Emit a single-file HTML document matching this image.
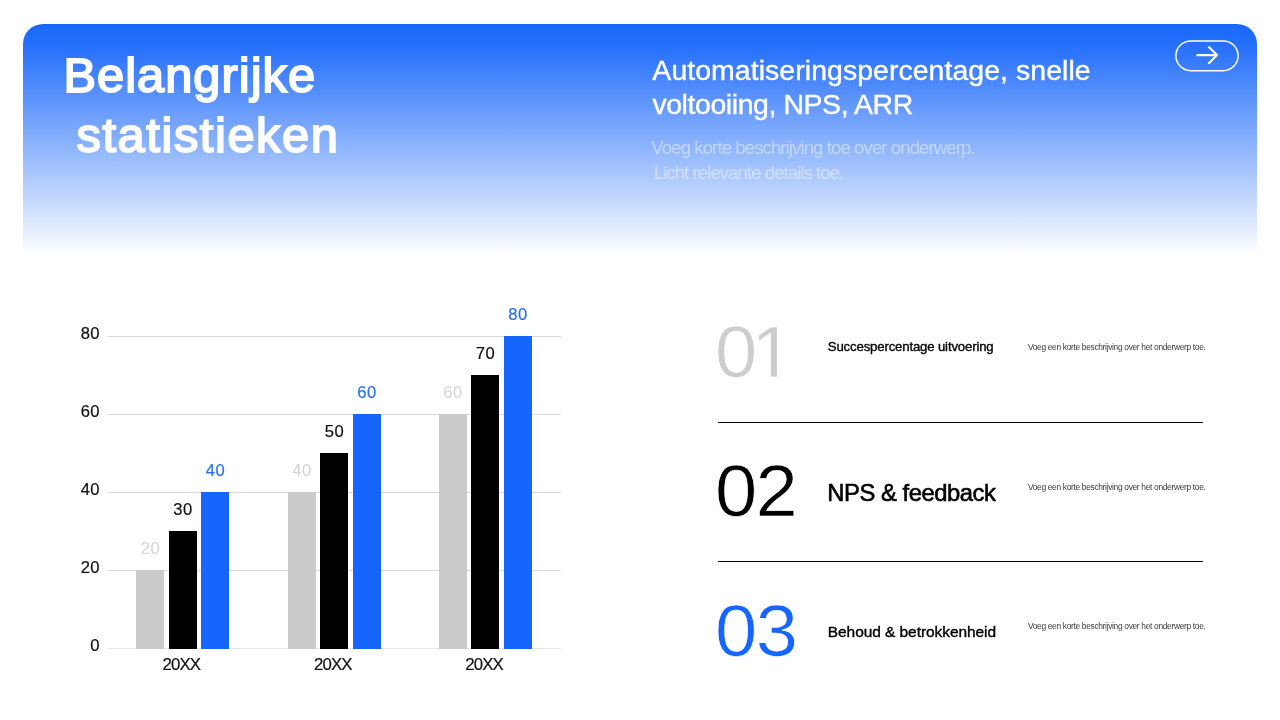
<!DOCTYPE html>
<html lang="nl">
<head>
<meta charset="utf-8">
<title>Belangrijke statistieken</title>
<style>
*{margin:0;padding:0;box-sizing:border-box}
h1,h2,h3,p,span{font:inherit}
html,body{width:1280px;height:720px;overflow:hidden;background:#fff}
body{position:relative;font-family:"Liberation Sans",sans-serif;color:#000}
.abs{position:absolute;display:block;white-space:pre;line-height:1;font-family:"Liberation Sans",sans-serif;font-weight:400}
#hero{position:absolute;left:23px;top:23.5px;width:1234px;height:232.5px;border-radius:20px 20px 0 0;
  background:linear-gradient(180deg,#1768fb 0%,#2972fc 11%,#ffffff 100%)}
.title{font-size:48.8px;color:#fff;-webkit-text-stroke:1.9px #fff}
.sub{font-size:28.4px;color:#fff;-webkit-text-stroke:0.4px #fff}
.desc{font-size:18.6px;color:rgba(255,255,255,.46)}
.grid{position:absolute;left:107.5px;width:453.5px;height:1px;background:#d9d9d9}
.bar{position:absolute;width:28px}
.g{background:#cbcbcb}.k{background:#000}.b{background:#1765ff}
.yl{width:40px;left:60px;text-align:right;font-size:16.6px;letter-spacing:.45px;color:#111;-webkit-text-stroke:.2px #111}
.xl{width:80px;text-align:center;font-size:16.8px;letter-spacing:-.85px;color:#111;-webkit-text-stroke:.2px #111}
.dl{width:60px;text-align:center;font-size:16.6px;letter-spacing:.45px;-webkit-text-stroke:.2px currentColor}
.num{font-size:72px;transform-origin:0 50%;transform:scaleX(1.055);-webkit-text-stroke:.7px #fff}
.d2{display:inline-block}
.one{clip-path:polygon(0 0,.3375em 0,.3375em 100%,.2545em 100%,.2545em .735em,0 .735em)}
.lab{left:828px;-webkit-text-stroke:0.35px #000}
.sm{left:1028px;font-size:8.4px;color:#3a3a3a}
.rule{position:absolute;left:718px;width:485px;height:1px;background:#000}
</style>
</head>
<body>
<div id="hero"></div>
<h1><span id="t1" class="abs title" style="left:63.43px;top:51.24px;letter-spacing:1.026px">Belangrijke</span> <span id="t2" class="abs title" style="left:76.53px;top:111.40px;letter-spacing:1.574px">statistieken</span></h1>
<h2><span id="s1" class="abs sub" style="left:652.37px;top:55.62px;letter-spacing:0.084px">Automatiseringspercentage, snelle</span> <span id="s2" class="abs sub" style="left:652.42px;top:90.48px;letter-spacing:-0.391px">voltooiing, NPS, ARR</span></h2>
<p><span id="d1" class="abs desc" style="left:651.33px;top:138.90px;letter-spacing:-0.917px">Voeg korte beschrijving toe over onderwerp.</span> <span id="d2" class="abs desc" style="left:653.78px;top:163.81px;letter-spacing:-0.944px">Licht relevante details toe.</span></p>
<svg id="pill" width="64" height="32" viewBox="0 0 64 32" fill="none" stroke="#fff" style="position:absolute;left:1175px;top:39.7px"><rect x="0.9" y="0.9" width="62.2" height="29.8" rx="14.9" stroke-width="1.5"/><path id="arrow" d="M21.4 15.1H42M33.4 6.5L42 15.1L33.4 23.7" stroke-width="2.1"/></svg>

<div class="grid" style="top:336px"></div>
<div class="grid" style="top:414px"></div>
<div class="grid" style="top:492px"></div>
<div class="grid" style="top:570px"></div>
<div class="grid" style="top:648px;background:#e6e6e6"></div>

<div id="yl1" class="abs yl" style="top:326px">80</div>
<div id="yl2" class="abs yl" style="top:404px">60</div>
<div id="yl3" class="abs yl" style="top:482px">40</div>
<div id="yl4" class="abs yl" style="top:560px">20</div>
<div id="yl5" class="abs yl" style="top:638px">0</div>

<div class="bar g" style="left:136px;top:570px;height:78.5px"></div>
<div class="bar k" style="left:168.5px;top:531px;height:117.5px"></div>
<div class="bar b" style="left:201px;top:492px;height:156.5px"></div>
<div class="bar g" style="left:287.5px;top:492px;height:156.5px"></div>
<div class="bar k" style="left:320px;top:453px;height:195.5px"></div>
<div class="bar b" style="left:352.5px;top:414px;height:234.5px"></div>
<div class="bar g" style="left:438.5px;top:414px;height:234.5px"></div>
<div class="bar k" style="left:471px;top:375px;height:273.5px"></div>
<div class="bar b" style="left:503.5px;top:336px;height:312.5px"></div>

<div id="dl1" class="abs dl" style="left:120.5px;top:541px;color:#d4d4d4;-webkit-text-stroke:0">20</div>
<div id="dl2" class="abs dl" style="left:153px;top:502px;color:#111">30</div>
<div id="dl3" class="abs dl" style="left:185.5px;top:463px;color:#2a6ff0">40</div>
<div id="dl4" class="abs dl" style="left:272px;top:463px;color:#d4d4d4;-webkit-text-stroke:0">40</div>
<div id="dl5" class="abs dl" style="left:304.5px;top:424px;color:#111">50</div>
<div id="dl6" class="abs dl" style="left:337px;top:385px;color:#2a6ff0">60</div>
<div id="dl7" class="abs dl" style="left:423px;top:385px;color:#d4d4d4;-webkit-text-stroke:0">60</div>
<div id="dl8" class="abs dl" style="left:455.5px;top:346px;color:#111">70</div>
<div id="dl9" class="abs dl" style="left:488px;top:307px;color:#2a6ff0">80</div>

<div id="xl1" class="abs xl" style="left:141.4px;top:657px">20XX</div>
<div id="xl2" class="abs xl" style="left:292.8px;top:657px">20XX</div>
<div id="xl3" class="abs xl" style="left:444px;top:657px">20XX</div>

<div id="n1" class="abs num" style="left:715.3px;top:316.32px;color:#cdcdcd">0<span id="n1b" class="d2 one" style="margin-left:-5.5px">1</span></div>
<h3 id="lab1" class="abs lab" style="top:339.95px;font-size:13.2px;left:827.79px;letter-spacing:-0.161px">Succespercentage uitvoering</h3>
<p id="sm1" class="abs sm" style="top:342.74px;left:1027.92px;letter-spacing:-0.315px">Voeg een korte beschrijving over het onderwerp toe.</p>
<div class="rule" style="top:422px"></div>

<div id="n2" class="abs num" style="left:715.3px;top:455.11px;color:#000">0<span id="n2b" class="d2" style="margin-left:-1.74px">2</span></div>
<h3 id="lab2" class="abs lab" style="top:480.65px;font-size:23.8px;left:827.30px;letter-spacing:-0.471px;-webkit-text-stroke:0.6px #000">NPS &amp; feedback</h3>
<p id="sm2" class="abs sm" style="top:483.04px;left:1027.92px;letter-spacing:-0.315px">Voeg een korte beschrijving over het onderwerp toe.</p>
<div class="rule" style="top:561px"></div>

<div id="n3" class="abs num" style="left:715.3px;top:595.18px;color:#1765ff">0<span id="n3b" class="d2" style="margin-left:-1.39px">3</span></div>
<h3 id="lab3" class="abs lab" style="top:624.35px;font-size:15.5px;left:827.75px;letter-spacing:-0.067px;-webkit-text-stroke:0.38px #000">Behoud &amp; betrokkenheid</h3>
<p id="sm3" class="abs sm" style="top:622.34px;left:1027.92px;letter-spacing:-0.315px">Voeg een korte beschrijving over het onderwerp toe.</p>
</body>
</html>
